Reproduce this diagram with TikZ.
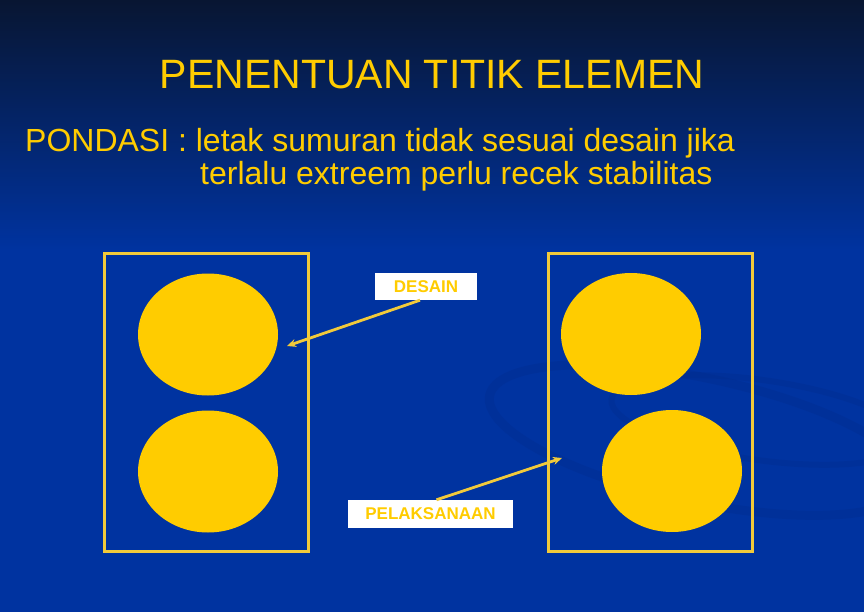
\documentclass[tikz,border=0pt]{standalone}
\usepackage{fontspec}
\setmainfont{Liberation Sans}
\usetikzlibrary{arrows.meta,shapes.geometric}
\definecolor{bgblue}{HTML}{0033A0}
\definecolor{bgtop}{HTML}{081632}
\definecolor{gold}{HTML}{FFCC00}
\definecolor{linegold}{HTML}{F2CA3A}
\definecolor{swoosh}{HTML}{002C8C}
\tikzset{
  txt/.style={inner sep=0pt, text=gold},
  frame/.style={draw=linegold, line width=3pt, inner sep=0pt, minimum width=#1},
  blob/.style={ellipse, fill=gold, inner sep=0pt, minimum width=140pt, minimum height=122pt},
  label/.style={fill=white, inner sep=0pt, text=gold, font=\fontsize{17}{17}\selectfont\bfseries},
  pointer/.style={draw=linegold, line width=2.8pt, -{Stealth[length=9pt,width=8pt]}}
}
\begin{document}
\begin{tikzpicture}[x=1pt,y=-1pt]
\useasboundingbox (0,0) rectangle (864,612);
% background
\fill[bgblue] (0,0) rectangle (864,612);
\shade[top color=bgtop, bottom color=bgblue] (0,0) rectangle (864,250);
% faint swoosh
\begin{scope}[opacity=0.35]
\draw[swoosh, line width=9pt] (700,440) ellipse [x radius=215, y radius=62, rotate=-12];
\draw[swoosh, line width=6pt] (760,420) ellipse [x radius=150, y radius=40, rotate=-8];
\end{scope}
% title
\node[txt, anchor=base, font=\fontsize{41}{41}\selectfont] (title) at (432,89) {PENENTUAN TITIK ELEMEN};
% subtitle
\node[txt, anchor=base west, font=\fontsize{32}{32}\selectfont] (l1) at (25,152) {PONDASI : letak sumuran tidak sesuai desain jika};
\node[txt, anchor=base west, font=\fontsize{32}{32}\selectfont] (l2) at (200,185) {terlalu extreem perlu recek stabilitas};
% frames
\node[frame=204pt, minimum height=297pt] (leftbox) at (206,402.5) {};
\node[frame=204pt, minimum height=297pt] (rightbox) at (650.5,402.5) {};
% circles
\node[blob] (l_top) at (208,334.5) {};
\node[blob] (l_bot) at (208,471.5) {};
\node[blob] (r_top) at (631,334) {};
\node[blob] (r_bot) at (672,471) {};
% labels
\node[label, minimum width=102pt, minimum height=27pt] (desain) at (426,286.5) {DESAIN};
\node[label, minimum width=165pt, minimum height=28pt] (pel) at (430.5,514) {PELAKSANAAN};
% arrows
\coordinate (dtip) at (287,346);
\coordinate (ptip) at (562,458);
\draw[pointer] ([xshift=-6pt]desain.south) -- (dtip);
\draw[pointer] ([xshift=6pt]pel.north) -- (ptip);
\end{tikzpicture}
\end{document}
